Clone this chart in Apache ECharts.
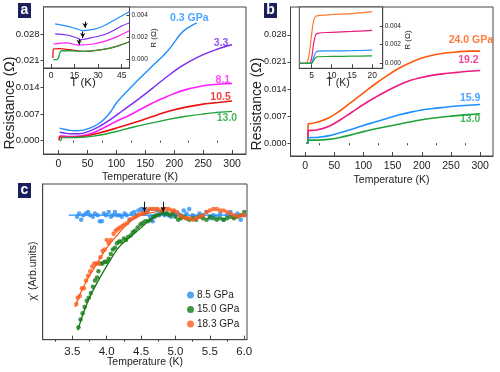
<!DOCTYPE html>
<html><head><meta charset="utf-8">
<script src="https://cdn.jsdelivr.net/npm/echarts@6/dist/echarts.min.js"></script>
<style>html,body{margin:0;padding:0;background:#fff}#c{width:500px;height:372px}</style>
</head><body><div id="c"></div>
<script>
// ---------- Panel a (main) : T (K), R (Ohm) ----------
const a03 = [[2,0.0033],[10,0.0030],[20,0.0027],[30,0.0026],[40,0.0027],[50,0.0031],[60,0.0037],[70,0.0045],[80,0.0058],[90,0.0076],[100,0.0099],[108,0.0113],[120,0.0132],[140,0.0163],[160,0.0193],[180,0.0222],[190,0.0238],[200,0.0258],[210,0.0279],[220,0.0293],[230,0.0302],[239,0.0309]];
const a33 = [[2,0.0022],[10,0.0020],[20,0.0018],[35,0.0018],[50,0.0023],[70,0.0037],[90,0.0056],[110,0.0078],[130,0.0100],[150,0.0123],[170,0.0147],[190,0.0171],[210,0.0193],[230,0.0211],[250,0.0226],[270,0.0238],[290,0.0248],[300,0.0252]];
const a81 = [[2,0.0013],[20,0.0011],[40,0.0013],[60,0.0021],[80,0.0035],[100,0.0051],[120,0.0065],[140,0.0081],[160,0.0097],[180,0.0111],[200,0.0124],[220,0.0134],[240,0.0141],[260,0.0146],[280,0.0149],[300,0.0150]];
const a105 = [[1.0,0.0001],[1.5,0.0010],[10,0.0009],[30,0.0009],[50,0.0013],[70,0.0020],[100,0.0033],[130,0.0047],[160,0.0062],[190,0.0077],[220,0.0088],[250,0.0096],[280,0.0101],[300,0.0104]];
const a130 = [[2,0.0000],[4,0.0001],[6,0.0008],[20,0.0008],[40,0.0009],[60,0.0012],[80,0.0017],[100,0.0024],[130,0.0036],[160,0.0046],[190,0.0056],[220,0.0064],[250,0.0070],[280,0.0075],[300,0.0077]];
// ---------- Panel a (inset) ----------
const ai03 = [[2.6,0.0032],[10,0.0030],[15.3,0.0028],[20.6,0.0026],[27,0.0027],[33.4,0.0030],[39.8,0.0035],[45,0.0039],[50,0.0043]];
const ai33 = [[2.6,0.0023],[10,0.0022],[15.3,0.0020],[19.6,0.0018],[27,0.0020],[33.4,0.0022],[39.8,0.0026],[45,0.0030],[50,0.0033]];
const ai81 = [[1.5,0.0014],[10,0.0015],[17.4,0.0013],[27,0.0014],[35.5,0.0017],[43,0.0021],[50,0.0026]];
const ai105 = [[1.2,0.00015],[1.5,0.00095],[5.7,0.00098],[12,0.00089],[20.6,0.00074],[29,0.00083],[37.7,0.00104],[44,0.0013],[50,0.0016]];
const ai130 = [[1.5,0.0000],[3.6,0.0000],[4.7,0.00015],[5.7,0.00065],[6.8,0.0008],[12,0.0008],[20.6,0.00074],[29,0.00083],[37.7,0.00104],[44,0.0013],[50,0.0016]];
const aiArrows = [[21.7,0.0034,0.00282],[20.2,0.00252,0.00193],[17.9,0.00184,0.00133]];
// ---------- Panel b (main) ----------
const b240 = [[2,0],[4.5,0],[5.5,0.0050],[10,0.0051],[20,0.0054],[40,0.0065],[60,0.0084],[80,0.0107],[100,0.0130],[120,0.0153],[140,0.0174],[160,0.0193],[180,0.0208],[200,0.0220],[220,0.0228],[240,0.0233],[260,0.0236],[280,0.0238],[300,0.0238]];
const b192 = [[2,0],[4.5,0],[5.5,0.0032],[20,0.0034],[40,0.0043],[60,0.0060],[80,0.0080],[100,0.0100],[120,0.0118],[140,0.0135],[160,0.0150],[180,0.0162],[200,0.0170],[220,0.0176],[240,0.0180],[260,0.0183],[280,0.0186],[300,0.0188]];
const b159 = [[2,0],[4.5,0],[5.5,0.0014],[20,0.0015],[40,0.0019],[60,0.0027],[80,0.0036],[100,0.0046],[120,0.0055],[140,0.0064],[160,0.0073],[180,0.0080],[200,0.0086],[220,0.0090],[240,0.0093],[260,0.0096],[280,0.0098],[300,0.0100]];
const b130 = [[2,0],[4.5,0],[5.5,0.0008],[20,0.0008],[40,0.0010],[60,0.0015],[80,0.0022],[100,0.0030],[130,0.0040],[160,0.0049],[190,0.0058],[220,0.0065],[250,0.0070],[280,0.0074],[300,0.0076]];
// ---------- Panel b (inset) ----------
const bi240 = [[2,0],[3.5,0],[4.0,0.0002],[4.5,0.0012],[5.0,0.0030],[5.5,0.0045],[6.0,0.0050],[7,0.0051],[10,0.0052],[15,0.0053],[20,0.0055]];
const bi192 = [[2,0],[4.5,0],[5.0,0.0005],[5.5,0.0020],[6.0,0.0030],[6.5,0.0032],[10,0.0033],[15,0.0034],[20,0.0035]];
const bi159 = [[2,0],[4.8,0],[5.2,0.0002],[5.6,0.0007],[6.0,0.0011],[6.5,0.0013],[10,0.00132],[15,0.00135],[20,0.0014]];
const bi130 = [[2,0],[5.0,0],[5.5,0.0003],[6.0,0.0006],[6.5,0.0007],[10,0.00073],[15,0.00076],[20,0.0008]];
// ---------- Panel c : T (K), chi' (arb.) ----------
const c85pts = [[3.57,0.79],[3.60,0.81],[3.63,0.77],[3.66,0.80],[3.70,0.81],[3.73,0.82],[3.76,0.80],[3.80,0.79],[3.83,0.81],[3.87,0.80],[3.90,0.76],[3.93,0.76],[3.96,0.81],[3.99,0.80],[4.03,0.82],[4.06,0.79],[4.09,0.80],[4.12,0.82],[4.15,0.80],[4.19,0.80],[4.22,0.79],[4.26,0.81],[4.29,0.80],[4.33,0.77],[4.36,0.81],[4.40,0.82],[4.43,0.80],[4.46,0.83],[4.50,0.84],[4.53,0.82],[4.56,0.81],[4.60,0.83],[4.63,0.79],[4.67,0.76],[4.70,0.79],[4.73,0.83],[4.77,0.82],[4.80,0.82],[4.84,0.80],[4.87,0.81],[4.90,0.80],[4.94,0.79],[4.97,0.82],[5.00,0.80],[5.04,0.81],[5.08,0.80],[5.12,0.83],[5.16,0.81],[5.20,0.84],[5.25,0.80],[5.30,0.79],[5.35,0.81],[5.40,0.80],[5.45,0.82],[5.50,0.78],[5.55,0.80],[5.60,0.79],[5.65,0.81],[5.70,0.77],[5.75,0.80],[5.80,0.82],[5.85,0.79],[5.90,0.81],[5.95,0.77],[6.00,0.80]];
const c150pts = [[3.59,0.08],[3.62,0.13],[3.65,0.17],[3.68,0.21],[3.71,0.25],[3.74,0.27],[3.77,0.30],[3.80,0.34],[3.83,0.38],[3.86,0.40],[3.88,0.44],[3.91,0.49],[3.94,0.49],[3.97,0.50],[4.00,0.50],[4.03,0.52],[4.06,0.55],[4.09,0.58],[4.12,0.59],[4.15,0.62],[4.18,0.63],[4.21,0.63],[4.25,0.65],[4.28,0.64],[4.31,0.66],[4.35,0.67],[4.38,0.69],[4.41,0.70],[4.45,0.72],[4.49,0.74],[4.52,0.75],[4.56,0.76],[4.60,0.76],[4.64,0.77],[4.68,0.79],[4.72,0.80],[4.76,0.80],[4.80,0.82],[4.84,0.81],[4.88,0.81],[4.92,0.80],[4.96,0.81],[5.00,0.79],[5.04,0.77],[5.08,0.78],[5.12,0.79],[5.16,0.78],[5.20,0.77],[5.25,0.78],[5.30,0.77],[5.35,0.79],[5.40,0.78],[5.45,0.77],[5.50,0.79],[5.55,0.78],[5.60,0.77],[5.65,0.78],[5.70,0.77],[5.75,0.78],[5.80,0.79],[5.85,0.78],[5.90,0.79],[5.95,0.80],[6.00,0.82]];
const c183pts = [[3.56,0.23],[3.58,0.27],[3.61,0.28],[3.64,0.33],[3.67,0.33],[3.70,0.38],[3.73,0.41],[3.76,0.44],[3.79,0.47],[3.82,0.49],[3.85,0.49],[3.88,0.49],[3.91,0.53],[3.94,0.57],[3.97,0.58],[4.00,0.64],[4.03,0.62],[4.06,0.64],[4.10,0.68],[4.13,0.70],[4.16,0.71],[4.19,0.72],[4.23,0.73],[4.26,0.74],[4.30,0.75],[4.34,0.77],[4.38,0.78],[4.42,0.79],[4.46,0.80],[4.50,0.81],[4.54,0.81],[4.58,0.82],[4.62,0.84],[4.66,0.84],[4.70,0.84],[4.74,0.84],[4.78,0.83],[4.82,0.84],[4.86,0.84],[4.90,0.84],[4.94,0.83],[4.98,0.83],[5.02,0.82],[5.06,0.80],[5.10,0.79],[5.15,0.78],[5.20,0.78],[5.25,0.77],[5.30,0.78],[5.35,0.79],[5.40,0.80],[5.45,0.82],[5.50,0.83],[5.55,0.84],[5.60,0.84],[5.65,0.83],[5.70,0.83],[5.75,0.82],[5.80,0.81],[5.85,0.80],[5.90,0.79],[5.95,0.80],[6.00,0.80]];
const c85fit = [[3.45,0.80],[6.04,0.80]];
const c150fit = [[3.58,0.06],[3.66,0.17],[3.76,0.28],[3.91,0.405],[4.05,0.51],[4.17,0.59],[4.30,0.645],[4.49,0.715],[4.63,0.77],[4.78,0.805],[4.88,0.81]];
const c183fit = [[3.54,0.21],[3.62,0.30],[3.71,0.38],[3.86,0.49],[4.00,0.59],[4.15,0.67],[4.29,0.74],[4.44,0.79],[4.59,0.81],[4.70,0.82]];
const cArrows = [[4.55,0.886,0.822],[4.82,0.886,0.822]];
// ---------- labels / ticks ----------
const aLabels = [['0.3 GPa',226,0.0321,'#1e8fff'],['3.3',281,0.0256,'#7a2cf0'],['8.1',284,0.0160,'#ff1eff'],['10.5',280,0.0115,'#ee1111'],['13.0',291,0.0058,'#1ea23a']];
const bLabels = [['24.0 GPa',284,0.0266,'#ff5a0a'],['19.2',280,0.0214,'#ee1a80'],['15.9',283,0.0116,'#1e8fff'],['13.0',283,0.0062,'#1ea23a']];
const rTicks = [0,0.007,0.014,0.021,0.028];
const tTicks = [0,50,100,150,200,250,300];
const tMinor = [25,75,125,175,225,275];
const aiXTicks = [0,15,30,45];
const aiYTicks = [0,0.002,0.004];
const biXTicks = [5,10,15,20];
const biYTicks = [0,0.002,0.004];
const cXTicks = [3.5,4.0,4.5,5.0,5.5,6.0];
const cXMinor = [3.25,3.75,4.25,4.75,5.25,5.75];

const F = "'Liberation Sans',Arial,sans-serif";
const AX = '#444';

function xAx(grid, min, max, ticks, lblSize, margin, fmt) {
  return {type:'value', gridIndex:grid, min:min, max:max, splitLine:{show:false},
    axisLine:{show:true, onZero:false, lineStyle:{color:AX}},
    axisTick:{show:true, inside:true, length:4, customValues:ticks, lineStyle:{color:AX}},
    axisLabel:{show:true, customValues:ticks, fontFamily:F, fontSize:lblSize, color:'#222', margin:margin,
      formatter:fmt||(v=>String(v))}};
}
function minorAx(grid, min, max, ticks) {
  return {type:'value', gridIndex:grid, min:min, max:max, splitLine:{show:false},
    axisLine:{show:false}, axisLabel:{show:false},
    axisTick:{show:true, inside:true, length:2, customValues:ticks, lineStyle:{color:AX}}};
}
function yAx(grid, min, max, ticks, lblSize, right) {
  return {type:'value', gridIndex:grid, min:min, max:max, position:right?'right':'left', splitLine:{show:false},
    axisLine:{show:true, onZero:false, lineStyle:{color:AX}},
    axisTick:{show:true, inside:!!right, length:3, customValues:ticks, lineStyle:{color:AX}},
    axisLabel:{show:true, customValues:ticks, fontFamily:F, fontSize:lblSize, color:'#222', margin:right?2:4,
      formatter:v=>v.toFixed(3)}};
}
function line(data, color, xi, yi, w, extra) {
  return Object.assign({type:'line', data:data, xAxisIndex:xi, yAxisIndex:yi, showSymbol:false, symbol:'none',
    smooth:0.35, lineStyle:{color:color, width:w}, itemStyle:{color:color}, silent:true, z:3}, extra||{});
}
function labelSeries(list, xi, yi) {
  return {type:'scatter', xAxisIndex:xi, yAxisIndex:yi, symbolSize:0.1, silent:true, z:5,
    data:list.map(l=>({value:[l[1],l[2]], label:{show:true, position:'inside', formatter:l[0], color:l[3],
      fontFamily:F, fontWeight:'bold', fontSize:10.5}}))};
}
function arrows(list) {
  return list.map(a=>[{coord:[a[0],a[1]]},{coord:[a[0],a[2]]}]);
}
const arrowStyle = {symbol:['none','arrow'], symbolSize:[4,5], silent:true, label:{show:false},
  lineStyle:{color:'#111', width:1, type:'solid'}, animation:false};
function txt(x, y, s, size, rot, extra) {
  return Object.assign({type:'text', x:x, y:y, rotation:rot||0,
    style:{text:s, fill:'#222', font:size+'px '+F, textAlign:'center', textVerticalAlign:'middle'}}, extra||{});
}

const ch = echarts.init(document.getElementById('c'), null, {renderer:'canvas'});
const option = {
  animation:false,
  backgroundColor:'#fff',
  grid:[
    {left:43.5, top:7, width:202.5, height:147, show:true, borderColor:AX, borderWidth:1},
    {left:43.5, top:7, width:86, height:61, show:true, borderColor:AX, borderWidth:1, backgroundColor:'#fff'},
    {left:290.5, top:7, width:202.5, height:149, show:true, borderColor:AX, borderWidth:1},
    {left:299.3, top:7, width:83.4, height:61.3, show:true, borderColor:AX, borderWidth:1, backgroundColor:'#fff'},
    {left:42.7, top:184, width:204.3, height:155.7, show:true, borderColor:AX, borderWidth:1}
  ],
  xAxis:[
    xAx(0,-26,324,tTicks,10.5,5),
    minorAx(0,-26,324,tMinor),
    xAx(1,-4.8,50,aiXTicks,8.5,3),
    xAx(2,-25,322,tTicks,10.5,5),
    minorAx(2,-25,322,tMinor),
    xAx(3,1.98,22.6,biXTicks,8.5,3),
    xAx(4,3.07,6.04,cXTicks,11.5,6,v=>v.toFixed(1)),
    minorAx(4,3.07,6.04,cXMinor)
  ],
  yAxis:[
    yAx(0,-0.0035,0.0351,rTicks,9.5),
    yAx(1,-0.00074,0.0047,aiYTicks,6.5,true),
    yAx(2,-0.0033,0.0352,rTicks,9),
    yAx(3,-0.00053,0.0060,biYTicks,6.5,true),
    {type:'value', gridIndex:4, min:0, max:1, splitLine:{show:false}, axisLine:{show:true,lineStyle:{color:AX}},
      axisTick:{show:false}, axisLabel:{show:false}}
  ],
  legend:{
    data:['8.5 GPa','15.0 GPa','18.3 GPa'], orient:'vertical', left:182, top:285,
    itemWidth:7, itemHeight:7, itemGap:4.5, icon:'circle',
    textStyle:{fontFamily:F, fontSize:10, color:'#222', padding:[0,0,0,-2]}
  },
  series:[
    line(a03,'#1e8fff',0,0,1.4),
    line(a33,'#7a2cf0',0,0,1.4),
    line(a81,'#ff1eff',0,0,1.6),
    line(a105,'#ee1111',0,0,1.6),
    line(a130,'#1ea23a',0,0,1.4),
    labelSeries(aLabels,0,0),
    line(ai03,'#1e8fff',2,1,1.2),
    line(ai33,'#7a2cf0',2,1,1.2),
    line(ai81,'#ff1eff',2,1,1.2),
    line(ai105,'#ee1111',2,1,1.3),
    line(ai130,'#1ea23a',2,1,1.3,{markLine:Object.assign({data:arrows(aiArrows)},arrowStyle)}),
    line(b240,'#ff5a0a',3,2,1.6),
    line(b192,'#ee1a80',3,2,1.6),
    line(b159,'#1e8fff',3,2,1.6),
    line(b130,'#1ea23a',3,2,1.6),
    labelSeries(bLabels,3,2),
    line(bi240,'#ff7a2a',5,3,1.2),
    line(bi192,'#ee1a80',5,3,1.2),
    line(bi159,'#1e8fff',5,3,1.2),
    line(bi130,'#1ea23a',5,3,1.2),
    line(c85fit,'#1e8fff',6,4,1.3),
    line(c150fit,'#117a11',6,4,1.3),
    line(c183fit,'#ff5a1a',6,4,1.3,{markLine:Object.assign({data:arrows(cArrows)},arrowStyle)}),
    {name:'8.5 GPa', type:'scatter', data:c85pts, xAxisIndex:6, yAxisIndex:4, symbolSize:4.5, itemStyle:{color:'#2a8ef0'}, z:4, silent:true},
    {name:'15.0 GPa', type:'scatter', data:c150pts, xAxisIndex:6, yAxisIndex:4, symbolSize:4.5, itemStyle:{color:'#147a14'}, z:4, silent:true},
    {name:'18.3 GPa', type:'scatter', data:c183pts, xAxisIndex:6, yAxisIndex:4, symbolSize:4.5, itemStyle:{color:'#ff5a1a'}, z:4, silent:true}
  ],
  graphic:[
    {type:'rect', shape:{x:18,y:3,width:13,height:15}, style:{fill:'#1b1f5c'}},
    {type:'text', x:24.5, y:10.5, style:{text:'a', fill:'#fff', font:'bold 14px '+F, textAlign:'center', textVerticalAlign:'middle'}},
    {type:'rect', shape:{x:264,y:3,width:13,height:15}, style:{fill:'#1b1f5c'}},
    {type:'text', x:270.5, y:10.5, style:{text:'b', fill:'#fff', font:'bold 14px '+F, textAlign:'center', textVerticalAlign:'middle'}},
    {type:'rect', shape:{x:18,y:183,width:13,height:15}, style:{fill:'#1b1f5c'}},
    {type:'text', x:24.5, y:190.5, style:{text:'c', fill:'#fff', font:'bold 14px '+F, textAlign:'center', textVerticalAlign:'middle'}},
    txt(10,103,'Resistance (Ω)',14,Math.PI/2),
    txt(257,104,'Resistance (Ω)',14,Math.PI/2),
    txt(140,177,'Temperature (K)',10.5),
    txt(391.5,180,'Temperature (K)',10.5),
    txt(145,362.5,'Temperature (K)',10.5),
    txt(33,271,'χ\' (Arb.units)',10.5,Math.PI/2),
    txt(83,83,'T (K)',11.5),
    txt(338,83,'T (K)',10.5),
    txt(154,38,'R (Ω)',8,Math.PI/2),
    txt(408,40,'R (Ω)',8,Math.PI/2)
  ]
};
ch.setOption(option);
</script></body></html>
